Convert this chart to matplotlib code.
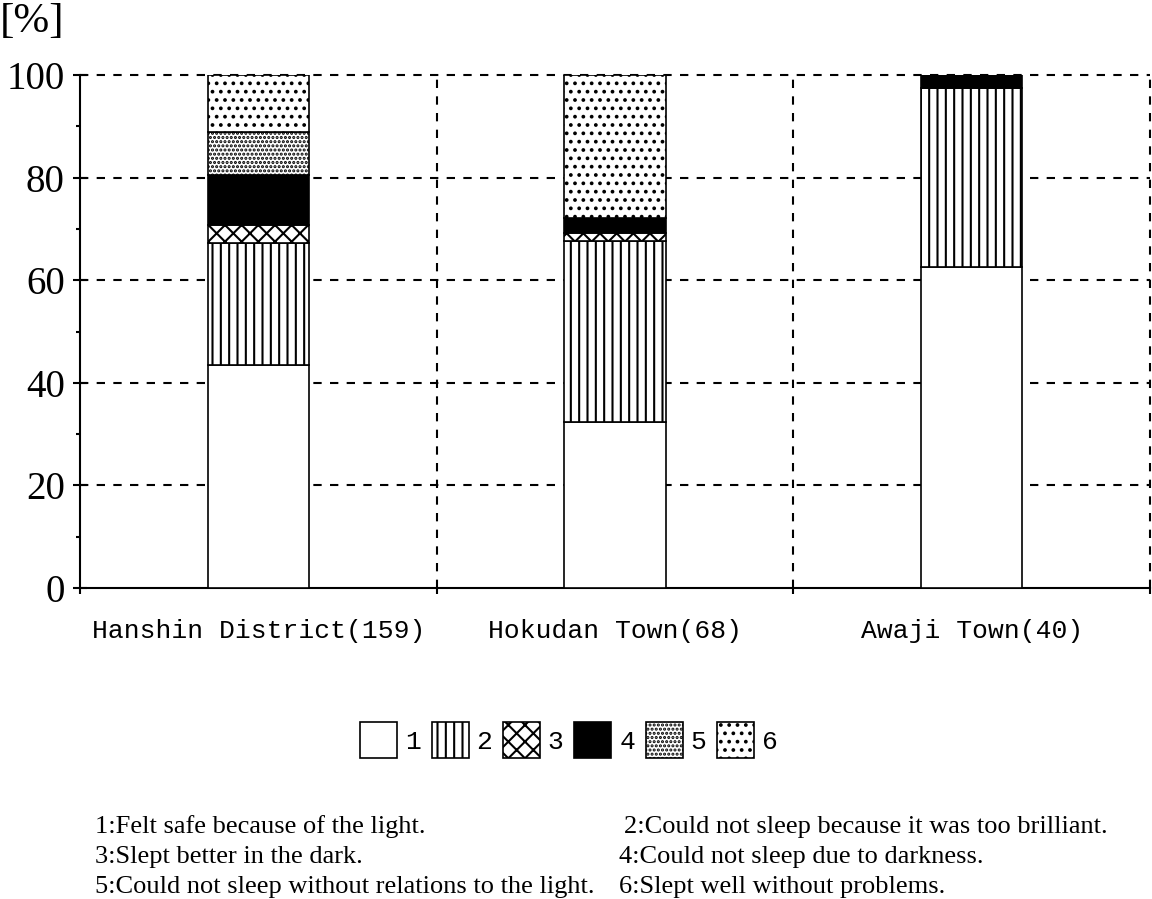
import numpy as np
import matplotlib
matplotlib.use("Agg")
import matplotlib.pyplot as plt
from matplotlib.patches import Patch

plt.rcParams['hatch.linewidth'] = 1.5

# 数据
categories = ['Hanshin District(159)', 'Hokudan Town(68)', 'Awaji Town(40)']
resp1 = [43.4, 32.4, 62.5]   # Felt safe because of the light
resp2 = [23.9, 35.3, 35.0]   # Could not sleep because too brilliant
resp3 = [3.5, 1.5, 0.0]      # Slept better in the dark
resp4 = [9.7, 2.9, 2.5]      # Could not sleep due to darkness
resp5 = [8.4, 0.0, 0.0]      # Could not sleep without relations to the light
resp6 = [11.1, 27.9, 0.0]    # Slept well without problems
legend_labels = ['1', '2', '3', '4', '5', '6']
notes_left = ['1:Felt safe because of the light.',
              '3:Slept better in the dark.',
              '5:Could not sleep without relations to the light.']
notes_right = ['2:Could not sleep because it was too brilliant.',
               '4:Could not sleep due to darkness.',
               '6:Slept well without problems.']

series = [resp1, resp2, resp3, resp4, resp5, resp6]
styles = [dict(facecolor='white', hatch=None),
          dict(facecolor='white', hatch='||'),
          dict(facecolor='white', hatch='xx'),
          dict(facecolor='black', hatch=None),
          dict(facecolor='white', hatch='....'),
          dict(facecolor='white', hatch='..')]

serif = 'Liberation Serif'
mono = 'Liberation Mono'

fig = plt.figure(figsize=(11.52, 8.99), dpi=100)
ax = fig.add_axes([80 / 1152, 1 - 588 / 899, 1070 / 1152, 513 / 899])

x = np.arange(len(categories)) + 0.5
bottom = np.zeros(len(categories))
for vals, st in zip(series, styles):
    vals = np.array(vals)
    ax.bar(x, vals, width=0.285, bottom=bottom, edgecolor='black',
           linewidth=1.2, zorder=3, **st)
    bottom += vals

ax.set_xlim(0, 3)
ax.set_ylim(0, 100)

# 网格线
for yv in [20, 40, 60, 80, 100]:
    ax.axhline(yv, color='black', lw=1.5, ls=(0, (4, 4)), zorder=1, clip_on=False)
for xv in [1, 2, 3]:
    ax.axvline(xv, color='black', lw=1.5, ls=(0, (4, 4)), zorder=1, clip_on=False)

for s in ['top', 'right']:
    ax.spines[s].set_visible(False)
for s in ['left', 'bottom']:
    ax.spines[s].set_linewidth(1.5)

ax.set_yticks([0, 20, 40, 60, 80, 100])
ax.set_yticks([10, 30, 50, 70, 90], minor=True)
ax.set_yticklabels(['0', '20', '40', '60', '80', '100'], fontfamily=serif, fontsize=28)
ax.tick_params(axis='y', which='major', direction='inout', length=10, width=1.5, pad=6)
ax.tick_params(axis='y', which='minor', direction='out', length=3, width=1.5)

ax.set_xticks([0, 1, 2, 3])
ax.set_xticklabels([])
ax.set_xticks(x, minor=True)
ax.set_xticklabels(categories, minor=True, fontfamily=mono, fontsize=19)
ax.tick_params(axis='x', which='major', direction='out', length=4, width=1.5)
ax.tick_params(axis='x', which='minor', length=0, pad=22)

fig.text(0, 1 - 2 / 899, '[%]', fontfamily=serif, fontsize=31, va='top', ha='left')

handles = [Patch(edgecolor='black', linewidth=1.2, **st) for st in styles]
fig.legend(handles, legend_labels, loc='center', bbox_to_anchor=(569 / 1152, 1 - 740 / 899),
           ncol=6, frameon=False, prop={'family': mono, 'size': 19},
           handlelength=1.4, handleheight=1.67, handletextpad=0.3,
           columnspacing=0.4, borderpad=0)

for i, (l, r) in enumerate(zip(notes_left, notes_right)):
    yb = 1 - (833 + 30 * i) / 899
    fig.text(95 / 1152, yb, l, fontfamily=serif, fontsize=19, va='baseline')
    fig.text((624 if i == 0 else 619) / 1152, yb, r, fontfamily=serif, fontsize=19, va='baseline')

fig.savefig('out.png', dpi=100)
